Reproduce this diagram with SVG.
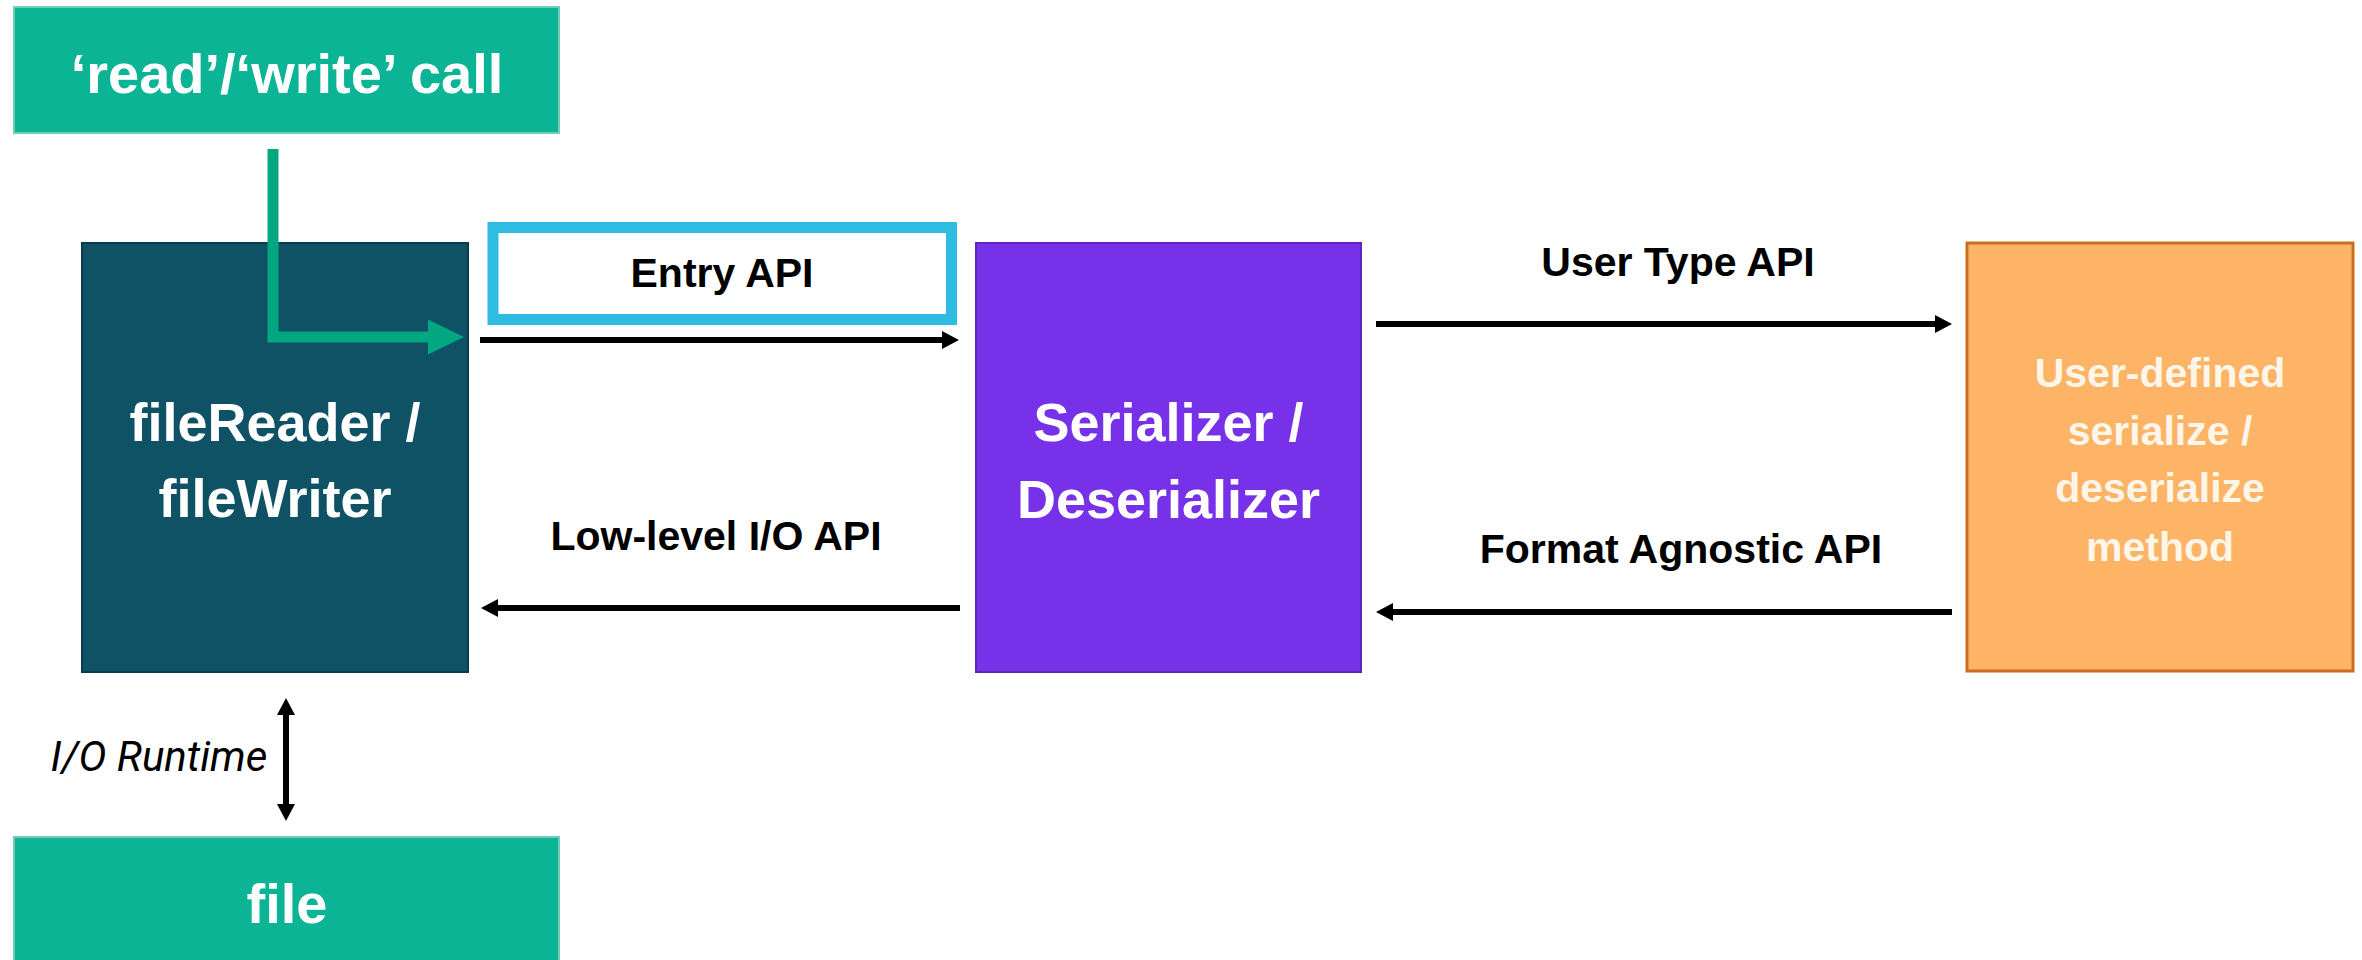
<svg xmlns="http://www.w3.org/2000/svg" width="2362" height="960" viewBox="0 0 2362 960">
<style>
.lbl{font-family:"Liberation Sans",Arial,sans-serif;font-weight:bold;font-size:41px;fill:#000;text-anchor:middle}
.big{font-family:"Liberation Sans",Arial,sans-serif;font-weight:bold;font-size:54px;fill:#fff;text-anchor:middle}
.top{font-family:"Liberation Sans",Arial,sans-serif;font-weight:bold;font-size:56px;fill:#fff;text-anchor:middle}
.org{font-family:"Liberation Sans",Arial,sans-serif;font-weight:bold;font-size:41px;fill:#FFF6EA;text-anchor:middle}
.ital{font-family:Roboto,"Liberation Sans",sans-serif;font-style:italic;font-size:42px;fill:#000;text-anchor:middle}
.conn{stroke:#000;stroke-width:6;fill:none}
</style>
<defs>
<marker id="ah" viewBox="0 0 17 18" refX="0" refY="9" markerWidth="17" markerHeight="18" markerUnits="userSpaceOnUse" orient="auto-start-reverse"><path d="M0,0 L17,9 L0,18 Z" fill="#000"/></marker>
<marker id="gh" viewBox="0 0 36 35" refX="0" refY="17.5" markerWidth="36" markerHeight="35" markerUnits="userSpaceOnUse" orient="auto"><path d="M0,0 L36,17.5 L0,35 Z" fill="#00A781"/></marker>
</defs>
<g id="call">
<rect x="14" y="7" width="545" height="126" fill="#0BB495" stroke="#74CBB7" stroke-width="2"/>
<text class="top" x="287" y="93">‘read’/‘write’ call</text>
</g>
<g id="fileReader">
<rect x="82" y="243" width="386" height="429" fill="#105265" stroke="#0B3C4B" stroke-width="2"/>
<text class="big" x="275" y="441">fileReader /</text>
<text class="big" x="275" y="517">fileWriter</text>
</g>
<g id="entry">
<rect x="493" y="227.5" width="458.5" height="92" fill="#fff" stroke="#2EBCE3" stroke-width="11"/>
<text class="lbl" x="722" y="287">Entry API</text>
</g>
<g id="serializer">
<rect x="976" y="243" width="385" height="429" fill="#7731E8" stroke="#5D27BE" stroke-width="2"/>
<text class="big" x="1168.5" y="441">Serializer /</text>
<text class="big" x="1168.5" y="518">Deserializer</text>
</g>
<g id="userdefined">
<rect x="1967" y="243" width="386" height="428" fill="#FDB466" stroke="#CC6E20" stroke-width="3"/>
<text class="org" x="2160" y="387">User-defined</text>
<text class="org" x="2160" y="445">serialize /</text>
<text class="org" x="2160" y="502">deserialize</text>
<text class="org" x="2160" y="561">method</text>
</g>
<g id="file">
<rect x="14" y="837" width="545" height="130" fill="#0BB495" stroke="#74CBB7" stroke-width="2"/>
<text class="top" x="287" y="923">file</text>
</g>
<g id="connectors">
<path d="M273,149 V337 H428" stroke="#00A781" stroke-width="11" fill="none" stroke-linejoin="miter" marker-end="url(#gh)"/>
<line class="conn" x1="480" y1="340" x2="942" y2="340" marker-end="url(#ah)"/>
<line class="conn" x1="960" y1="608" x2="498" y2="608" marker-end="url(#ah)"/>
<line class="conn" x1="1376" y1="324" x2="1935" y2="324" marker-end="url(#ah)"/>
<line class="conn" x1="1952" y1="612" x2="1393" y2="612" marker-end="url(#ah)"/>
<line class="conn" x1="286" y1="715" x2="286" y2="804" stroke-width="5" marker-start="url(#ah)" marker-end="url(#ah)"/>
<text class="lbl" x="716" y="550">Low-level I/O API</text>
<text class="lbl" x="1678" y="276">User Type API</text>
<text class="lbl" x="1681" y="563">Format Agnostic API</text>
<text class="ital" x="159" y="771">I/O Runtime</text>
</g>
</svg>
